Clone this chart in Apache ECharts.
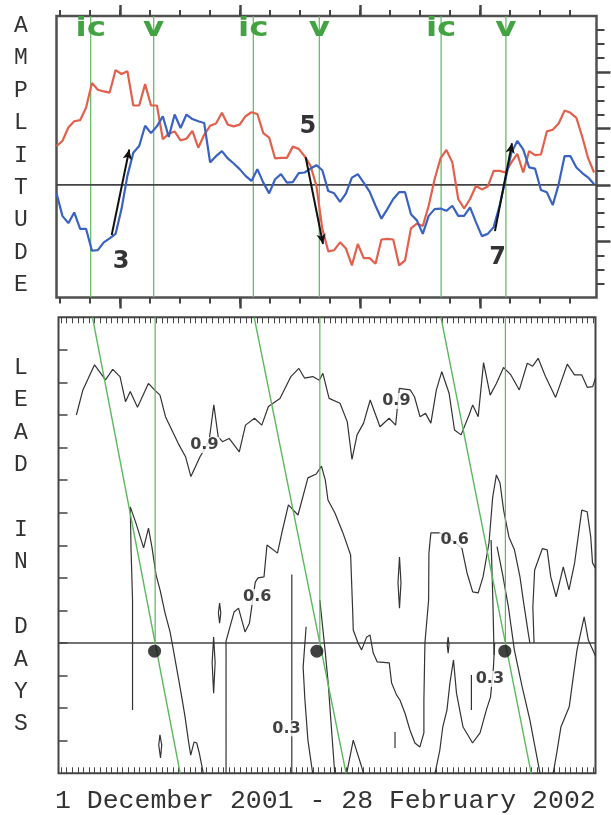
<!DOCTYPE html>
<html>
<head>
<meta charset="utf-8">
<style>
  html, body { margin: 0; padding: 0; background: #fff; }
  #main { width: 611px; height: 815px; }
</style>
<script src="https://cdn.jsdelivr.net/npm/echarts@6/dist/echarts.min.js"></script>
</head>
<body>
<div id="main"></div>
<script>
// daily amplitudes, 1 Dec 2001 .. 28 Feb 2002
const redAmp = [0.69, 0.78, 1.02, 1.13, 1.15, 1.37, 1.81, 1.69, 1.66, 1.64,
  2.04, 1.97, 2.02, 1.41, 1.41, 1.79, 1.41, 1.41, 0.81, 0.91,
  0.95, 0.79, 0.82, 0.96, 0.66, 0.89, 1.05, 1.09, 1.28, 1.07,
  1.04, 1.07, 1.22, 1.29, 1.26, 0.92, 0.84, 0.47, 0.48, 0.48,
  0.68, 0.64, 0.51, 0.34, -0.02, -0.78, -1.18, -1.16, -1.02, -1.13,
  -1.43, -1.05, -1.30, -1.30, -1.40, -0.97, -0.96, -0.97, -1.43, -1.34,
  -0.77, -0.69, -0.73, -0.37, 0.10, 0.47, 0.62, 0.40, -0.25, -0.42,
  -0.25, -0.02, -0.08, -0.03, 0.25, 0.25, 0.22, 0.40, 0.55, 0.22,
  0.60, 0.53, 0.54, 0.95, 0.98, 1.09, 1.32, 1.28, 1.19, 0.85,
  0.47, 0.22];
const blueAmp = [-0.15, -0.55, -0.68, -0.49, -0.78, -0.78, -1.17, -1.16, -1.02, -0.95,
  -0.87, -0.43, 0.16, 0.57, 0.69, 1.05, 0.92, 1.04, 1.22, 0.85,
  1.25, 1.01, 1.25, 1.17, 1.13, 1.10, 0.40, 0.51, 0.60, 0.47,
  0.38, 0.28, 0.16, 0.07, 0.28, 0.04, -0.15, 0.10, 0.19, 0.04,
  0.05, 0.21, 0.22, 0.29, 0.35, 0.26, -0.11, -0.15, -0.30, -0.15,
  0.13, 0.19, 0.04, -0.12, -0.37, -0.60, -0.43, -0.25, -0.13, -0.13,
  -0.52, -0.63, -0.87, -0.55, -0.43, -0.42, -0.46, -0.37, -0.55, -0.55,
  -0.40, -0.66, -0.91, -0.87, -0.75, -0.37, 0.10, 0.57, 0.78, 0.63,
  0.31, 0.29, -0.09, -0.13, -0.36, 0.01, 0.51, 0.51, 0.31, 0.21,
  0.13, 0.01];

// event days (ic = initial condition, v = verification)
const icDays = [6.1, 33.2, 64.5];
const vDays = [16.6, 44.2, 75.3];

const topMinorTicks = [1, 6, 11, 16, 21, 26, 31, 36, 41, 46, 51, 56, 61, 66, 71, 76, 81, 86];
const topMajorTicks = [11, 31, 51, 71];
const ampMinorTicks = [-1.75, -1.5, -1.25, -0.75, -0.5, -0.25, 0.25, 0.5, 0.75, 1.25, 1.5, 1.75, 2.25, 2.5, 2.75];
const ampMajorTicks = [-1, 0, 1, 2];
const leadTicks = [-3, -2, -1, 0, 1, 2, 3, 4, 5, 6, 7, 8, 9];

// arrows and their numbers: [label, x0, y0, x1, y1, labelX, labelY]
const arrows = [
  ['3', 9.6, -0.89, 12.53, 0.63, 11.15, -1.36],
  ['5', 41.93, 0.49, 44.82, -1.05, 42.3, 1.04],
  ['7', 73.48, -0.82, 76.32, 0.74, 73.9, -1.29]
];

// correlation contours, [day, lead in days]
const contour09 = [[3.4, 7.0], [4.49, 7.77], [6.44, 8.54], [8.28, 8.08], [9.49, 8.4], [10.71, 8.18], [11.63, 7.41], [12.42, 7.72], [13.64, 7.24], [15.47, 7.97], [16.49, 7.77], [17.41, 7.61], [18.33, 6.95], [20.46, 6.13], [21.69, 5.72], [22.59, 5.11], [24.12, 5.72], [25.62, 6.18], [26.43, 7.31], [27.17, 6.33], [27.89, 6.18], [28.99, 6.28], [30.7, 5.87], [31.74, 6.69], [33.25, 6.9], [34.47, 6.69], [35.58, 7.26], [37.52, 7.51], [39.35, 8.18], [40.69, 8.43], [41.66, 8.13], [43.0, 8.18], [44.11, 8.07], [44.71, 8.28], [45.75, 7.51], [47.58, 7.36], [48.8, 6.79], [49.59, 5.64], [50.44, 6.39], [51.53, 6.75], [52.64, 7.46], [54.28, 6.64], [55.81, 6.9], [56.9, 6.69], [57.52, 7.82], [59.34, 7.77], [60.06, 7.56], [60.99, 6.95], [61.91, 7.05], [62.81, 6.75], [63.73, 7.77], [64.64, 8.33], [65.86, 7.67], [66.77, 6.54], [67.87, 6.39], [69.21, 7.0], [69.82, 7.31], [70.74, 6.95], [71.64, 8.61], [72.75, 7.61], [73.79, 7.97], [74.99, 8.46], [76.22, 8.23], [77.63, 7.77], [78.97, 8.59], [79.87, 8.5], [80.79, 8.74], [82.02, 8.18], [83.71, 7.54], [85.67, 8.56], [86.88, 8.23], [88.1, 8.23], [89.02, 7.85], [89.93, 7.87], [90.4, 8.13]];
const contourLeft = [[12.81, -2.06], [12.81, 1.32], [12.56, 2.86], [12.43, 4.18], [13.38, 3.68], [14.67, 2.92], [15.48, 3.53], [16.08, 2.92], [16.75, 2.09], [17.42, 1.63], [18.26, 0.92], [19.1, 0.34], [19.65, -0.21], [20.49, -1.07], [21.06, -1.66], [21.61, -2.27], [22.16, -2.98], [22.56, -3.44], [23.12, -3.04], [23.57, -3.07], [24.0, -3.38], [24.67, -4.0]];
const contourMid = [[28.48, -4], [28.48, 0.06], [29.82, 0.95], [30.57, 1.07], [31.66, 0.34], [32.4, 0.61], [33.38, 1.87], [33.84, 2.0], [34.84, 2.03], [35.34, 3.01], [37.1, 2.76], [37.94, 3.47], [38.93, 4.24], [40.54, 3.93], [42.2, 5.07], [43.6, 5.19], [44.47, 5.43], [45.12, 5.0], [45.56, 4.39], [46.73, 3.99], [48.07, 3.38], [49.36, 2.7], [49.7, 1.01], [49.8, 0.4], [50.6, 0], [51.2, -0.21], [52.04, 0.18], [52.6, 0.25], [53.15, -0.31], [53.82, -0.58], [55.83, -0.61], [56.23, -1.23], [57.07, -1.6], [57.62, -1.75], [58.46, -2.15], [59.3, -2.67], [60.13, -3.07], [60.97, -3.19], [61.64, -2.76], [61.64, -1.75], [61.81, 0], [62.43, 1.32], [62.48, 2.76], [62.81, 3.38], [64.32, 3.38], [66.0, 3.2], [68.0, 2.92], [68.87, 2.15], [69.82, 1.57], [70.74, 1.54], [71.55, 2.03], [72.55, 3.07], [73.17, 4.48], [73.79, 5.16], [74.4, 4.91], [75.0, 4.08], [75.9, 3.25], [76.82, 2.86], [77.74, 2.03], [78.36, 1.23], [79.1, 0.34], [79.4, 0]];
const contourRightTop = [[80.1, 0], [79.9, 1.1], [80.2, 2.24], [81.5, 2.9], [82.3, 2.86], [82.9, 2.03], [83.8, 1.42], [85.0, 2.34], [85.96, 1.63], [86.9, 2.46], [88.1, 4.08], [89.0, 4.03], [89.6, 3.26], [89.9, 2.46], [90.4, 2.3]];
const contourRightV3 = [[73.9, 2.96], [74.8, 2.14], [75.8, 1.11], [76.8, -0.21], [78.1, -1.34], [79.4, -2.36], [81.1, -4]];
const contourV3Stem = [[72.9, 3.16], [73.2, 1.3], [73.4, -0.37]];
const contour03 = [[63.5, -4], [64.3, -3.3], [64.8, -2.58], [65.5, -2.06], [66.0, -1.23], [66.6, -0.52], [67.1, -1.54], [68.2, -2.58], [69.8, -3.07], [71.05, -2.76], [72.1, -2.06], [72.8, -1.66], [73.3, -0.74], [73.5, 0]];
const contourStem70 = [[69.6, -0.98], [69.6, -2.06]];
const contourPeakRight = [[83.3, -4], [83.9, -3.38], [84.6, -2.58], [86.0, -1.96], [86.6, -1.14], [87.3, -0.21], [88.5, 0.8], [89.2, 0.09], [90.4, -0.4]];
const contourPeakMid = [[48.7, -4], [49.8, -2.98], [51.2, -3.8], [51.5, -4]];
const contourV2a = [[41.9, 0.5], [41.4, -0.74], [41.7, -1.75], [42.2, -2.98], [43.0, -4]];
const contourV2b = [[44.2, 1.32], [45.07, -0.21], [45.6, -1.23], [46.2, -2.76], [46.7, -4]];
const contourStem40 = [[39.5, 2.1], [39.5, -4]];
const contourStem57 = [[56.8, -2.73], [56.8, -3.22]];
const lensA = [[17.4, -2.82], [17.7, -3.13], [17.5, -3.53], [17.2, -3.13], [17.4, -2.82]];
const lensB = [[26.4, 0.18], [26.65, -0.6], [26.4, -1.54], [26.15, -0.6], [26.4, 0.18]];
const lensC = [[27.4, 1.23], [27.6, 0.92], [27.4, 0.61], [27.2, 0.92], [27.4, 1.23]];
const lensD = [[57.55, 2.64], [57.8, 1.85], [57.55, 1.07], [57.3, 1.85], [57.55, 2.64]];
const lensE = [[65.7, 0.18], [65.85, -0.06], [65.7, -0.31], [65.55, -0.06], [65.7, 0.18]];

const contourLabels = [['0.9', 24.85, 6.08], ['0.9', 57.03, 7.43], ['0.6', 33.7, 1.41], ['0.6', 66.8, 3.16], ['0.3', 38.6, -2.62], ['0.3', 72.7, -1.1]];
const dotPoints = [[16.5, -0.25], [43.7, -0.25], [75.2, -0.25]];

const X_MIN = 0.4, X_MAX = 90.4;
const SERIES_START = 0.4, SERIES_END = 90.0;
const EVENT_LABEL_AMP = 2.76;
const GREEN = '#5cb85c';
const INK = '#333';

const contours = [contour09, contourLeft, contourMid, contourRightTop, contourRightV3, contourV3Stem,
  contour03, contourStem70, contourPeakRight, contourPeakMid, contourV2a, contourV2b,
  contourStem40, contourStem57, lensA, lensB, lensC, lensD, lensE];

// bottom panel has one small tick per ~0.94 day
const bottomTicks = [];
for (let k = 0; k < 96; k++) bottomTicks.push(0.82 + k * 0.9385);

const toXY = arr => arr.map((v, i) => [SERIES_START + i * (SERIES_END - SERIES_START) / (arr.length - 1), v]);

function tickAxis(grid, pos, ticks, len, inside, width) {
  return {
    type: 'value', gridIndex: grid, position: pos, min: X_MIN, max: X_MAX,
    axisLine: { show: false, onZero: false }, splitLine: { show: false }, axisLabel: { show: false },
    axisTick: { show: true, inside: inside, length: len, customValues: ticks,
      lineStyle: { color: '#444', width: width } }
  };
}

const chart = echarts.init(document.getElementById('main'));

const series = [];
// top panel
series.push({ type: 'line', xAxisIndex: 0, yAxisIndex: 0, data: [[X_MIN, 0], [X_MAX, 0]],
  showSymbol: false, lineStyle: { color: '#444', width: 1.6 }, z: 2 });
icDays.concat(vDays).forEach(d => {
  series.push({ type: 'line', xAxisIndex: 0, yAxisIndex: 0, data: [[d, -2], [d, 3]],
    showSymbol: false, lineStyle: { color: GREEN, width: 1.2 }, z: 1 });
});
series.push({ type: 'line', name: 'red', xAxisIndex: 0, yAxisIndex: 0, data: toXY(redAmp),
  showSymbol: false, lineStyle: { color: '#e2604c', width: 2.2 }, z: 3 });
series.push({ type: 'line', name: 'blue', xAxisIndex: 0, yAxisIndex: 0, data: toXY(blueAmp),
  showSymbol: false, lineStyle: { color: '#3a62c2', width: 2.2 }, z: 4,
  markLine: {
    silent: true, symbol: ['none', 'arrow'], symbolSize: [7, 10],
    lineStyle: { color: '#111', width: 2, type: 'solid' }, label: { show: false },
    data: arrows.map(a => [{ coord: [a[1], a[2]] }, { coord: [a[3], a[4]] }])
  } });
series.push({ type: 'scatter', xAxisIndex: 0, yAxisIndex: 0, symbolSize: 0.1, z: 6,
  itemStyle: { color: 'transparent' },
  label: { show: true, position: 'inside', formatter: '{b}', color: '#000',
    fontFamily: 'DejaVu Sans', fontWeight: 'bold', fontSize: 24 },
  data: arrows.map(a => ({ name: a[0], value: [a[5], a[6]] })) });

// bottom panel
series.push({ type: 'line', xAxisIndex: 4, yAxisIndex: 2, data: [[X_MIN, 0], [X_MAX, 0]],
  showSymbol: false, lineStyle: { color: '#444', width: 1.4 }, z: 2 });
vDays.forEach((v, i) => {
  const ic = icDays[i];
  series.push({ type: 'line', xAxisIndex: 4, yAxisIndex: 2, data: [[v, 10], [v, 0]],
    showSymbol: false, lineStyle: { color: GREEN, width: 1.2 }, z: 3 });
  series.push({ type: 'line', xAxisIndex: 4, yAxisIndex: 2, data: [[ic, 10], [v + (v - ic) * 0.4, -4]],
    showSymbol: false, lineStyle: { color: GREEN, width: 1.4 }, z: 3 });
});
contours.forEach(c => {
  series.push({ type: 'line', xAxisIndex: 4, yAxisIndex: 2, data: c,
    showSymbol: false, lineStyle: { color: INK, width: 1.2 }, z: 2 });
});
series.push({ type: 'scatter', xAxisIndex: 4, yAxisIndex: 2, data: dotPoints,
  symbolSize: 13, itemStyle: { color: '#111' }, z: 5 });
series.push({ type: 'scatter', xAxisIndex: 4, yAxisIndex: 2, symbolSize: 0.1, z: 6,
  itemStyle: { color: 'transparent' },
  label: { show: true, position: 'inside', formatter: '{b}', color: '#111',
    fontFamily: 'DejaVu Sans', fontWeight: 'bold', fontSize: 16,
    backgroundColor: '#fff', padding: [0, 1] },
  data: contourLabels.map(l => ({ name: l[0], value: [l[1], l[2]] })) });

chart.setOption({
  animation: false,
  backgroundColor: '#fff',
  grid: [
    { left: 56.5, top: 16, width: 540, height: 281.5, show: true,
      borderColor: '#505050', borderWidth: 2.5, backgroundColor: 'transparent' },
    { left: 58.5, top: 317.3, width: 537, height: 456, show: true,
      borderColor: '#444', borderWidth: 2, backgroundColor: 'transparent' }
  ],
  xAxis: [
    tickAxis(0, 'bottom', topMinorTicks, 6, false, 2),
    tickAxis(0, 'bottom', topMajorTicks, 11, false, 2.5),
    tickAxis(0, 'top', topMinorTicks, 6, false, 2),
    tickAxis(0, 'top', topMajorTicks, 11, false, 2.5),
    tickAxis(1, 'bottom', bottomTicks, 6, true, 1),
    tickAxis(1, 'top', bottomTicks, 6, true, 1)
  ],
  yAxis: [
    { type: 'value', gridIndex: 0, position: 'right', min: -2, max: 3,
      axisLine: { show: false, onZero: false }, splitLine: { show: false }, axisLabel: { show: false },
      axisTick: { show: true, length: 8, customValues: ampMinorTicks, lineStyle: { color: '#444', width: 2 } } },
    { type: 'value', gridIndex: 0, position: 'right', min: -2, max: 3,
      axisLine: { show: false, onZero: false }, splitLine: { show: false }, axisLabel: { show: false },
      axisTick: { show: true, length: 14, customValues: ampMajorTicks, lineStyle: { color: '#444', width: 2.5 } } },
    { type: 'value', gridIndex: 1, position: 'left', min: -4, max: 10,
      axisLine: { show: false, onZero: false }, splitLine: { show: false }, axisLabel: { show: false },
      axisTick: { show: true, inside: true, length: 9, customValues: leadTicks, lineStyle: { color: '#444', width: 1.5 } } }
  ],
  graphic: [
    { type: 'text', id: 'ampTitle', x: 21, y: 9.8, silent: true,
      style: { text: 'AMPLITUDE'.split('').join('\n'), textAlign: 'center', textVerticalAlign: 'top',
        lineHeight: 32.4, font: '23px "Liberation Mono"', fill: INK } },
    { type: 'text', id: 'leadTitle', x: 21, y: 351.8, silent: true,
      style: { text: 'LEAD IN DAYS'.split('').join('\n'), textAlign: 'center', textVerticalAlign: 'top',
        lineHeight: 32.4, font: '23px "Liberation Mono"', fill: INK } },
    { type: 'text', id: 'dateTitle', x: 55, y: 801, silent: true,
      style: { text: '1 December 2001 - 28 February 2002', textAlign: 'left', textVerticalAlign: 'middle',
        font: '26.5px "Liberation Mono"', fill: INK } }
  ],
  series: series
});

// heavy, wide "ic" / "v" markers placed through the top grid's scales
const eventMarks = icDays.map(d => ['ic', d]).concat(vDays.map(d => ['v', d]));
chart.setOption({
  graphic: eventMarks.map((m, i) => {
    const p = chart.convertToPixel({ gridIndex: 0 }, [m[1], EVENT_LABEL_AMP]);
    return { type: 'text', id: 'ev' + i, x: p[0], y: p[1], scaleX: 1.25, silent: true, z: 10,
      style: { text: m[0], textAlign: 'center', textVerticalAlign: 'middle',
        font: 'bold 26px "DejaVu Sans"', fill: '#43a343' } };
  })
});
</script>
</body>
</html>
